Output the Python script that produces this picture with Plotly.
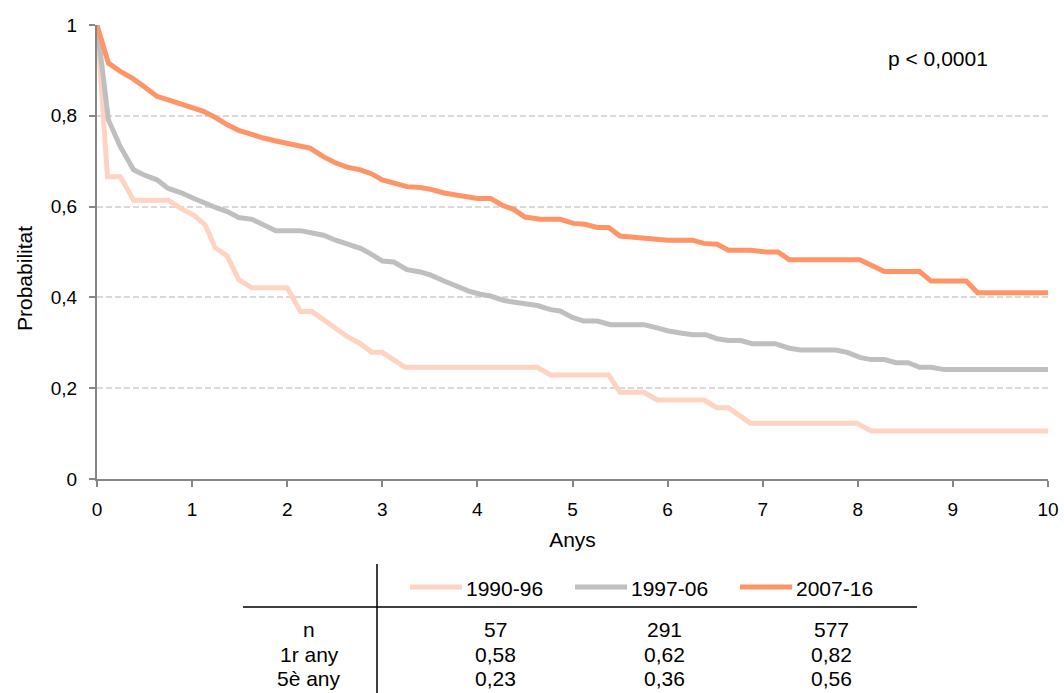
import plotly.graph_objects as go

# Survival curves by diagnosis period (time in years, probability)
t_1990 = [0, 0.11, 0.245, 0.385, 0.75, 0.88, 1.02, 1.14, 1.24, 1.37, 1.49, 1.63, 2.0, 2.14,
          2.26, 2.38, 2.51, 2.63, 2.77, 2.89, 3.0, 3.12, 3.24, 4.63, 4.77, 5.38, 5.5, 5.75,
          5.89, 6.38, 6.52, 6.64, 6.87, 7.99, 8.14, 10.0]
s_1990 = [1.0, 0.666, 0.666, 0.614, 0.614, 0.596, 0.581, 0.559, 0.510, 0.491, 0.439, 0.421,
          0.421, 0.369, 0.369, 0.351, 0.331, 0.314, 0.298, 0.279, 0.279, 0.262, 0.246, 0.246,
          0.229, 0.229, 0.191, 0.191, 0.174, 0.174, 0.157, 0.157, 0.123, 0.123, 0.106, 0.106]

t_1997 = [0, 0.12, 0.245, 0.385, 0.49, 0.63, 0.75, 0.88, 1.02, 1.14, 1.26, 1.37, 1.49, 1.63,
          1.75, 1.88, 2.14, 2.26, 2.38, 2.51, 2.63, 2.77, 2.87, 3.0, 3.12, 3.26, 3.4, 3.51,
          3.65, 3.79, 3.91, 4.03, 4.14, 4.28, 4.38, 4.5, 4.63, 4.77, 4.87, 5.0, 5.12, 5.26,
          5.4, 5.75, 5.87, 6.01, 6.15, 6.27, 6.4, 6.52, 6.64, 6.77, 6.89, 7.13, 7.28, 7.4,
          7.77, 7.89, 8.02, 8.14, 8.28, 8.4, 8.53, 8.65, 8.77, 8.91, 10.0]
s_1997 = [1.0, 0.791, 0.732, 0.681, 0.670, 0.659, 0.640, 0.631, 0.618, 0.607, 0.597, 0.589,
          0.576, 0.572, 0.559, 0.547, 0.547, 0.542, 0.537, 0.526, 0.517, 0.508, 0.497, 0.480,
          0.478, 0.461, 0.456, 0.449, 0.436, 0.423, 0.414, 0.407, 0.403, 0.393, 0.389, 0.386,
          0.382, 0.373, 0.370, 0.356, 0.348, 0.348, 0.340, 0.340, 0.334, 0.326, 0.321, 0.318,
          0.318, 0.309, 0.305, 0.305, 0.298, 0.298, 0.288, 0.284, 0.284, 0.279, 0.268, 0.263,
          0.263, 0.256, 0.256, 0.246, 0.246, 0.241, 0.241]

t_2007 = [0, 0.12, 0.245, 0.37, 0.49, 0.63, 0.75, 0.88, 1.02, 1.12, 1.24, 1.37, 1.49, 1.63,
          1.75, 1.87, 2.0, 2.12, 2.24, 2.38, 2.5, 2.63, 2.77, 2.89, 3.0, 3.12, 3.26, 3.4, 3.51,
          3.65, 3.79, 4.0, 4.14, 4.26, 4.38, 4.5, 4.66, 4.87, 5.01, 5.13, 5.26, 5.38, 5.5,
          5.64, 5.75, 5.89, 6.0, 6.26, 6.38, 6.52, 6.64, 6.87, 7.03, 7.16, 7.28, 8.02, 8.14,
          8.28, 8.65, 8.77, 9.14, 9.26, 10.0]
s_2007 = [1.0, 0.916, 0.898, 0.883, 0.865, 0.843, 0.835, 0.827, 0.817, 0.81, 0.797, 0.78,
          0.768, 0.758, 0.751, 0.745, 0.738, 0.734, 0.729, 0.71, 0.697, 0.687, 0.681, 0.672,
          0.659, 0.653, 0.644, 0.642, 0.638, 0.63, 0.625, 0.618, 0.618, 0.603, 0.594, 0.577,
          0.572, 0.572, 0.563, 0.561, 0.554, 0.554, 0.535, 0.533, 0.530, 0.529, 0.526, 0.526,
          0.519, 0.517, 0.504, 0.504, 0.50, 0.50, 0.483, 0.483, 0.471, 0.457, 0.457, 0.436,
          0.436, 0.41, 0.41]

series_names = ["1990-96", "1997-06", "2007-16"]
series_colors = ["#FFD3C2", "#BFBFBF", "#FF9466"]

# Summary table below the chart
row_labels = ["n", "1r any", "5è any"]
n_values = ["57", "291", "577"]
year1_values = ["0,58", "0,62", "0,82"]
year5_values = ["0,23", "0,36", "0,56"]

y_ticks = [0, 0.2, 0.4, 0.6, 0.8, 1]
y_tick_text = ["0", "0,2", "0,4", "0,6", "0,8", "1"]
x_ticks = list(range(0, 11))

FONT = "Liberation Sans, Arial, sans-serif"
TICK_SIZE = 19
TITLE_SIZE = 21
TEXT_SIZE = 21

W, H = 1064, 693
ML, MR, MT, MB = 97, 16, 25, 214
PW, PH = W - ML - MR, H - MT - MB


def px(x):
    return (x - ML) / PW


def py(y):
    return (H - MB - y) / PH


fig = go.Figure()
for t, s, name, color in zip([t_1990, t_1997, t_2007], [s_1990, s_1997, s_2007],
                             series_names, series_colors):
    fig.add_trace(go.Scatter(x=t, y=s, mode="lines", name=name,
                             line=dict(color=color, width=5), showlegend=False,
                             cliponaxis=False))

fig.update_layout(
    width=W, height=H,
    margin=dict(l=ML, r=MR, t=MT, b=MB, autoexpand=False),
    paper_bgcolor="white", plot_bgcolor="white",
    font=dict(family=FONT, size=TEXT_SIZE, color="#000000"),
)
fig.update_xaxes(
    range=[0, 10], tickvals=x_ticks, ticks="outside", ticklen=6, tickwidth=2,
    tickcolor="#868686", showline=True, linecolor="#868686", linewidth=2,
    showgrid=False, zeroline=False, automargin=False,
    tickfont=dict(size=TICK_SIZE), ticklabelstandoff=6,
    title=dict(text="Anys", font=dict(size=TITLE_SIZE), standoff=14),
)
fig.update_yaxes(
    range=[0, 1], tickvals=y_ticks, ticktext=y_tick_text, ticks="outside", ticklen=6,
    tickwidth=2, tickcolor="#868686", showline=True, linecolor="#868686", linewidth=2,
    showgrid=True, gridcolor="#D9D9D9", gridwidth=1.5, griddash="6px,3px",
    zeroline=False, automargin=False, tickfont=dict(size=TICK_SIZE), ticklabelstandoff=8,
)

annotations = [
    # y-axis title, set slightly below the plot's vertical centre
    dict(x=px(24), y=py(279), xref="paper", yref="paper", text="Probabilitat",
         textangle=-90, showarrow=False, xanchor="center", yanchor="middle",
         font=dict(size=TITLE_SIZE)),
    dict(x=px(886), y=py(58), xref="paper", yref="paper", text="p < 0,0001",
         showarrow=False, xanchor="left", yanchor="middle", font=dict(size=TEXT_SIZE)),
]
shapes = [
    dict(type="line", xref="paper", yref="paper", x0=px(377), x1=px(377),
         y0=py(564), y1=py(H), line=dict(color="#000000", width=1.5)),
    dict(type="line", xref="paper", yref="paper", x0=px(243), x1=px(917),
         y0=py(607), y1=py(607), line=dict(color="#000000", width=1.5)),
]

# Header row: line samples with period labels
sample_x = [410, 575, 740]
for x0, name, color in zip(sample_x, series_names, series_colors):
    shapes.append(dict(type="line", xref="paper", yref="paper", x0=px(x0), x1=px(x0 + 52),
                       y0=py(587), y1=py(587), line=dict(color=color, width=5)))
    annotations.append(dict(x=px(x0 + 54), y=py(588), xref="paper", yref="paper", text=name,
                            showarrow=False, xanchor="left", yanchor="middle",
                            font=dict(size=TEXT_SIZE)))

# Body rows
col_x = [495, 664, 831]
row_y = [629, 654, 679]
for label, yy in zip(row_labels, row_y):
    annotations.append(dict(x=px(309), y=py(yy), xref="paper", yref="paper", text=label,
                            showarrow=False, xanchor="center", yanchor="middle",
                            font=dict(size=TEXT_SIZE)))
for values, yy in zip([n_values, year1_values, year5_values], row_y):
    for v, xx in zip(values, col_x):
        annotations.append(dict(x=px(xx), y=py(yy), xref="paper", yref="paper", text=v,
                                showarrow=False, xanchor="center", yanchor="middle",
                                font=dict(size=TEXT_SIZE)))

fig.update_layout(annotations=annotations, shapes=shapes)
fig.write_html("out.html")
